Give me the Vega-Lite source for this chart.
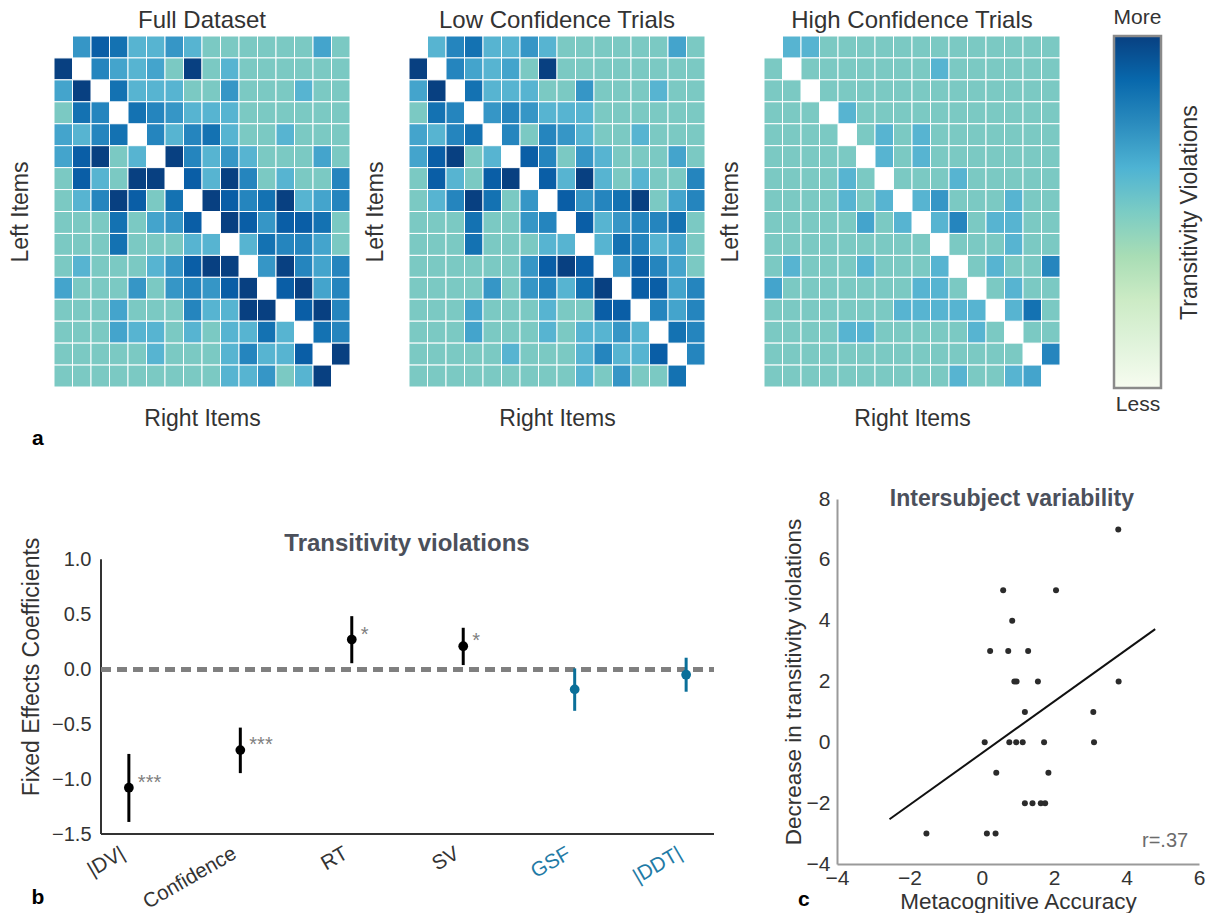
{
"$schema":"https://vega.github.io/schema/vega-lite/v6.json",
"background":"white",
"padding":{"left":9,"top":6,"right":4,"bottom":4},
"config":{"font":"Liberation Sans","view":{"stroke":null},
"axis":{"labelColor":"#333333","titleColor":"#333333","titleFontWeight":"normal","grid":false,"ticks":false,"labelFont":"Liberation Sans","titleFont":"Liberation Sans"},
"title":{"color":"#333333","fontWeight":"normal","font":"Liberation Sans"}},
"datasets":{
"cells":[
{"p":1,"r":0,"c":1,"v":3},{"p":1,"r":0,"c":2,"v":6},{"p":1,"r":0,"c":3,"v":5},{"p":1,"r":0,"c":4,"v":1},{"p":1,"r":0,"c":5,"v":1},{"p":1,"r":0,"c":6,"v":3},{"p":1,"r":0,"c":7,"v":1},{"p":1,"r":0,"c":8,"v":0},{"p":1,"r":0,"c":9,"v":0},{"p":1,"r":0,"c":10,"v":0},{"p":1,"r":0,"c":11,"v":0},{"p":1,"r":0,"c":12,"v":0},{"p":1,"r":0,"c":13,"v":0},{"p":1,"r":0,"c":14,"v":2},{"p":1,"r":0,"c":15,"v":0},
{"p":1,"r":1,"c":0,"v":7},{"p":1,"r":1,"c":2,"v":4},{"p":1,"r":1,"c":3,"v":2},{"p":1,"r":1,"c":4,"v":1},{"p":1,"r":1,"c":5,"v":2},{"p":1,"r":1,"c":6,"v":0},{"p":1,"r":1,"c":7,"v":7},{"p":1,"r":1,"c":8,"v":0},{"p":1,"r":1,"c":9,"v":1},{"p":1,"r":1,"c":10,"v":0},{"p":1,"r":1,"c":11,"v":0},{"p":1,"r":1,"c":12,"v":0},{"p":1,"r":1,"c":13,"v":0},{"p":1,"r":1,"c":14,"v":0},{"p":1,"r":1,"c":15,"v":0},
{"p":1,"r":2,"c":0,"v":2},{"p":1,"r":2,"c":1,"v":7},{"p":1,"r":2,"c":3,"v":5},{"p":1,"r":2,"c":4,"v":1},{"p":1,"r":2,"c":5,"v":1},{"p":1,"r":2,"c":6,"v":1},{"p":1,"r":2,"c":7,"v":0},{"p":1,"r":2,"c":8,"v":0},{"p":1,"r":2,"c":9,"v":3},{"p":1,"r":2,"c":10,"v":0},{"p":1,"r":2,"c":11,"v":0},{"p":1,"r":2,"c":12,"v":0},{"p":1,"r":2,"c":13,"v":1},{"p":1,"r":2,"c":14,"v":0},{"p":1,"r":2,"c":15,"v":0},
{"p":1,"r":3,"c":0,"v":0},{"p":1,"r":3,"c":1,"v":5},{"p":1,"r":3,"c":2,"v":4},{"p":1,"r":3,"c":4,"v":5},{"p":1,"r":3,"c":5,"v":4},{"p":1,"r":3,"c":6,"v":3},{"p":1,"r":3,"c":7,"v":1},{"p":1,"r":3,"c":8,"v":1},{"p":1,"r":3,"c":9,"v":1},{"p":1,"r":3,"c":10,"v":0},{"p":1,"r":3,"c":11,"v":0},{"p":1,"r":3,"c":12,"v":0},{"p":1,"r":3,"c":13,"v":0},{"p":1,"r":3,"c":14,"v":0},{"p":1,"r":3,"c":15,"v":0},
{"p":1,"r":4,"c":0,"v":2},{"p":1,"r":4,"c":1,"v":1},{"p":1,"r":4,"c":2,"v":4},{"p":1,"r":4,"c":3,"v":5},{"p":1,"r":4,"c":5,"v":4},{"p":1,"r":4,"c":6,"v":1},{"p":1,"r":4,"c":7,"v":4},{"p":1,"r":4,"c":8,"v":5},{"p":1,"r":4,"c":9,"v":1},{"p":1,"r":4,"c":10,"v":0},{"p":1,"r":4,"c":11,"v":0},{"p":1,"r":4,"c":12,"v":1},{"p":1,"r":4,"c":13,"v":0},{"p":1,"r":4,"c":14,"v":0},{"p":1,"r":4,"c":15,"v":0},
{"p":1,"r":5,"c":0,"v":2},{"p":1,"r":5,"c":1,"v":6},{"p":1,"r":5,"c":2,"v":7},{"p":1,"r":5,"c":3,"v":0},{"p":1,"r":5,"c":4,"v":1},{"p":1,"r":5,"c":6,"v":7},{"p":1,"r":5,"c":7,"v":4},{"p":1,"r":5,"c":8,"v":1},{"p":1,"r":5,"c":9,"v":3},{"p":1,"r":5,"c":10,"v":1},{"p":1,"r":5,"c":11,"v":0},{"p":1,"r":5,"c":12,"v":0},{"p":1,"r":5,"c":13,"v":0},{"p":1,"r":5,"c":14,"v":2},{"p":1,"r":5,"c":15,"v":0},
{"p":1,"r":6,"c":0,"v":0},{"p":1,"r":6,"c":1,"v":6},{"p":1,"r":6,"c":2,"v":1},{"p":1,"r":6,"c":3,"v":0},{"p":1,"r":6,"c":4,"v":7},{"p":1,"r":6,"c":5,"v":7},{"p":1,"r":6,"c":7,"v":6},{"p":1,"r":6,"c":8,"v":1},{"p":1,"r":6,"c":9,"v":7},{"p":1,"r":6,"c":10,"v":4},{"p":1,"r":6,"c":11,"v":0},{"p":1,"r":6,"c":12,"v":1},{"p":1,"r":6,"c":13,"v":0},{"p":1,"r":6,"c":14,"v":0},{"p":1,"r":6,"c":15,"v":4},
{"p":1,"r":7,"c":0,"v":0},{"p":1,"r":7,"c":1,"v":1},{"p":1,"r":7,"c":2,"v":4},{"p":1,"r":7,"c":3,"v":7},{"p":1,"r":7,"c":4,"v":6},{"p":1,"r":7,"c":5,"v":0},{"p":1,"r":7,"c":6,"v":5},{"p":1,"r":7,"c":8,"v":7},{"p":1,"r":7,"c":9,"v":6},{"p":1,"r":7,"c":10,"v":4},{"p":1,"r":7,"c":11,"v":5},{"p":1,"r":7,"c":12,"v":7},{"p":1,"r":7,"c":13,"v":1},{"p":1,"r":7,"c":14,"v":2},{"p":1,"r":7,"c":15,"v":4},
{"p":1,"r":8,"c":0,"v":0},{"p":1,"r":8,"c":1,"v":0},{"p":1,"r":8,"c":2,"v":0},{"p":1,"r":8,"c":3,"v":5},{"p":1,"r":8,"c":4,"v":0},{"p":1,"r":8,"c":5,"v":2},{"p":1,"r":8,"c":6,"v":3},{"p":1,"r":8,"c":7,"v":6},{"p":1,"r":8,"c":9,"v":7},{"p":1,"r":8,"c":10,"v":6},{"p":1,"r":8,"c":11,"v":3},{"p":1,"r":8,"c":12,"v":6},{"p":1,"r":8,"c":13,"v":6},{"p":1,"r":8,"c":14,"v":5},{"p":1,"r":8,"c":15,"v":0},
{"p":1,"r":9,"c":0,"v":0},{"p":1,"r":9,"c":1,"v":0},{"p":1,"r":9,"c":2,"v":0},{"p":1,"r":9,"c":3,"v":5},{"p":1,"r":9,"c":4,"v":0},{"p":1,"r":9,"c":5,"v":0},{"p":1,"r":9,"c":6,"v":0},{"p":1,"r":9,"c":7,"v":1},{"p":1,"r":9,"c":8,"v":1},{"p":1,"r":9,"c":10,"v":1},{"p":1,"r":9,"c":11,"v":5},{"p":1,"r":9,"c":12,"v":4},{"p":1,"r":9,"c":13,"v":4},{"p":1,"r":9,"c":14,"v":2},{"p":1,"r":9,"c":15,"v":0},
{"p":1,"r":10,"c":0,"v":0},{"p":1,"r":10,"c":1,"v":1},{"p":1,"r":10,"c":2,"v":0},{"p":1,"r":10,"c":3,"v":0},{"p":1,"r":10,"c":4,"v":0},{"p":1,"r":10,"c":5,"v":1},{"p":1,"r":10,"c":6,"v":3},{"p":1,"r":10,"c":7,"v":6},{"p":1,"r":10,"c":8,"v":7},{"p":1,"r":10,"c":9,"v":7},{"p":1,"r":10,"c":11,"v":3},{"p":1,"r":10,"c":12,"v":7},{"p":1,"r":10,"c":13,"v":4},{"p":1,"r":10,"c":14,"v":2},{"p":1,"r":10,"c":15,"v":4},
{"p":1,"r":11,"c":0,"v":2},{"p":1,"r":11,"c":1,"v":0},{"p":1,"r":11,"c":2,"v":0},{"p":1,"r":11,"c":3,"v":0},{"p":1,"r":11,"c":4,"v":3},{"p":1,"r":11,"c":5,"v":0},{"p":1,"r":11,"c":6,"v":3},{"p":1,"r":11,"c":7,"v":4},{"p":1,"r":11,"c":8,"v":3},{"p":1,"r":11,"c":9,"v":6},{"p":1,"r":11,"c":10,"v":7},{"p":1,"r":11,"c":12,"v":6},{"p":1,"r":11,"c":13,"v":7},{"p":1,"r":11,"c":14,"v":2},{"p":1,"r":11,"c":15,"v":4},
{"p":1,"r":12,"c":0,"v":0},{"p":1,"r":12,"c":1,"v":0},{"p":1,"r":12,"c":2,"v":0},{"p":1,"r":12,"c":3,"v":2},{"p":1,"r":12,"c":4,"v":0},{"p":1,"r":12,"c":5,"v":0},{"p":1,"r":12,"c":6,"v":0},{"p":1,"r":12,"c":7,"v":4},{"p":1,"r":12,"c":8,"v":1},{"p":1,"r":12,"c":9,"v":1},{"p":1,"r":12,"c":10,"v":7},{"p":1,"r":12,"c":11,"v":7},{"p":1,"r":12,"c":13,"v":6},{"p":1,"r":12,"c":14,"v":7},{"p":1,"r":12,"c":15,"v":4},
{"p":1,"r":13,"c":0,"v":0},{"p":1,"r":13,"c":1,"v":0},{"p":1,"r":13,"c":2,"v":0},{"p":1,"r":13,"c":3,"v":2},{"p":1,"r":13,"c":4,"v":1},{"p":1,"r":13,"c":5,"v":1},{"p":1,"r":13,"c":6,"v":0},{"p":1,"r":13,"c":7,"v":1},{"p":1,"r":13,"c":8,"v":0},{"p":1,"r":13,"c":9,"v":1},{"p":1,"r":13,"c":10,"v":1},{"p":1,"r":13,"c":11,"v":5},{"p":1,"r":13,"c":12,"v":1},{"p":1,"r":13,"c":14,"v":5},{"p":1,"r":13,"c":15,"v":4},
{"p":1,"r":14,"c":0,"v":0},{"p":1,"r":14,"c":1,"v":0},{"p":1,"r":14,"c":2,"v":0},{"p":1,"r":14,"c":3,"v":0},{"p":1,"r":14,"c":4,"v":0},{"p":1,"r":14,"c":5,"v":1},{"p":1,"r":14,"c":6,"v":0},{"p":1,"r":14,"c":7,"v":0},{"p":1,"r":14,"c":8,"v":0},{"p":1,"r":14,"c":9,"v":1},{"p":1,"r":14,"c":10,"v":4},{"p":1,"r":14,"c":11,"v":1},{"p":1,"r":14,"c":12,"v":1},{"p":1,"r":14,"c":13,"v":6},{"p":1,"r":14,"c":15,"v":7},
{"p":1,"r":15,"c":0,"v":0},{"p":1,"r":15,"c":1,"v":0},{"p":1,"r":15,"c":2,"v":0},{"p":1,"r":15,"c":3,"v":0},{"p":1,"r":15,"c":4,"v":0},{"p":1,"r":15,"c":5,"v":0},{"p":1,"r":15,"c":6,"v":0},{"p":1,"r":15,"c":7,"v":0},{"p":1,"r":15,"c":8,"v":0},{"p":1,"r":15,"c":9,"v":1},{"p":1,"r":15,"c":10,"v":1},{"p":1,"r":15,"c":11,"v":3},{"p":1,"r":15,"c":12,"v":0},{"p":1,"r":15,"c":13,"v":1},{"p":1,"r":15,"c":14,"v":7},
{"p":2,"r":0,"c":1,"v":1},{"p":2,"r":0,"c":2,"v":4},{"p":2,"r":0,"c":3,"v":5},{"p":2,"r":0,"c":4,"v":1},{"p":2,"r":0,"c":5,"v":1},{"p":2,"r":0,"c":6,"v":3},{"p":2,"r":0,"c":7,"v":1},{"p":2,"r":0,"c":8,"v":0},{"p":2,"r":0,"c":9,"v":0},{"p":2,"r":0,"c":10,"v":0},{"p":2,"r":0,"c":11,"v":0},{"p":2,"r":0,"c":12,"v":0},{"p":2,"r":0,"c":13,"v":0},{"p":2,"r":0,"c":14,"v":2},{"p":2,"r":0,"c":15,"v":0},
{"p":2,"r":1,"c":0,"v":7},{"p":2,"r":1,"c":2,"v":4},{"p":2,"r":1,"c":3,"v":2},{"p":2,"r":1,"c":4,"v":1},{"p":2,"r":1,"c":5,"v":2},{"p":2,"r":1,"c":6,"v":0},{"p":2,"r":1,"c":7,"v":7},{"p":2,"r":1,"c":8,"v":0},{"p":2,"r":1,"c":9,"v":0},{"p":2,"r":1,"c":10,"v":0},{"p":2,"r":1,"c":11,"v":0},{"p":2,"r":1,"c":12,"v":0},{"p":2,"r":1,"c":13,"v":0},{"p":2,"r":1,"c":14,"v":0},{"p":2,"r":1,"c":15,"v":0},
{"p":2,"r":2,"c":0,"v":2},{"p":2,"r":2,"c":1,"v":7},{"p":2,"r":2,"c":3,"v":5},{"p":2,"r":2,"c":4,"v":1},{"p":2,"r":2,"c":5,"v":1},{"p":2,"r":2,"c":6,"v":1},{"p":2,"r":2,"c":7,"v":0},{"p":2,"r":2,"c":8,"v":0},{"p":2,"r":2,"c":9,"v":3},{"p":2,"r":2,"c":10,"v":0},{"p":2,"r":2,"c":11,"v":0},{"p":2,"r":2,"c":12,"v":0},{"p":2,"r":2,"c":13,"v":1},{"p":2,"r":2,"c":14,"v":0},{"p":2,"r":2,"c":15,"v":0},
{"p":2,"r":3,"c":0,"v":0},{"p":2,"r":3,"c":1,"v":5},{"p":2,"r":3,"c":2,"v":4},{"p":2,"r":3,"c":4,"v":3},{"p":2,"r":3,"c":5,"v":4},{"p":2,"r":3,"c":6,"v":3},{"p":2,"r":3,"c":7,"v":1},{"p":2,"r":3,"c":8,"v":1},{"p":2,"r":3,"c":9,"v":1},{"p":2,"r":3,"c":10,"v":0},{"p":2,"r":3,"c":11,"v":0},{"p":2,"r":3,"c":12,"v":0},{"p":2,"r":3,"c":13,"v":0},{"p":2,"r":3,"c":14,"v":0},{"p":2,"r":3,"c":15,"v":0},
{"p":2,"r":4,"c":0,"v":2},{"p":2,"r":4,"c":1,"v":1},{"p":2,"r":4,"c":2,"v":4},{"p":2,"r":4,"c":3,"v":5},{"p":2,"r":4,"c":5,"v":4},{"p":2,"r":4,"c":6,"v":0},{"p":2,"r":4,"c":7,"v":4},{"p":2,"r":4,"c":8,"v":3},{"p":2,"r":4,"c":9,"v":1},{"p":2,"r":4,"c":10,"v":0},{"p":2,"r":4,"c":11,"v":0},{"p":2,"r":4,"c":12,"v":1},{"p":2,"r":4,"c":13,"v":0},{"p":2,"r":4,"c":14,"v":0},{"p":2,"r":4,"c":15,"v":0},
{"p":2,"r":5,"c":0,"v":2},{"p":2,"r":5,"c":1,"v":6},{"p":2,"r":5,"c":2,"v":7},{"p":2,"r":5,"c":3,"v":0},{"p":2,"r":5,"c":4,"v":1},{"p":2,"r":5,"c":6,"v":6},{"p":2,"r":5,"c":7,"v":4},{"p":2,"r":5,"c":8,"v":0},{"p":2,"r":5,"c":9,"v":3},{"p":2,"r":5,"c":10,"v":1},{"p":2,"r":5,"c":11,"v":0},{"p":2,"r":5,"c":12,"v":0},{"p":2,"r":5,"c":13,"v":0},{"p":2,"r":5,"c":14,"v":2},{"p":2,"r":5,"c":15,"v":0},
{"p":2,"r":6,"c":0,"v":0},{"p":2,"r":6,"c":1,"v":6},{"p":2,"r":6,"c":2,"v":1},{"p":2,"r":6,"c":3,"v":0},{"p":2,"r":6,"c":4,"v":6},{"p":2,"r":6,"c":5,"v":7},{"p":2,"r":6,"c":7,"v":6},{"p":2,"r":6,"c":8,"v":1},{"p":2,"r":6,"c":9,"v":7},{"p":2,"r":6,"c":10,"v":1},{"p":2,"r":6,"c":11,"v":0},{"p":2,"r":6,"c":12,"v":1},{"p":2,"r":6,"c":13,"v":0},{"p":2,"r":6,"c":14,"v":0},{"p":2,"r":6,"c":15,"v":4},
{"p":2,"r":7,"c":0,"v":0},{"p":2,"r":7,"c":1,"v":1},{"p":2,"r":7,"c":2,"v":4},{"p":2,"r":7,"c":3,"v":7},{"p":2,"r":7,"c":4,"v":5},{"p":2,"r":7,"c":5,"v":0},{"p":2,"r":7,"c":6,"v":3},{"p":2,"r":7,"c":8,"v":6},{"p":2,"r":7,"c":9,"v":3},{"p":2,"r":7,"c":10,"v":4},{"p":2,"r":7,"c":11,"v":5},{"p":2,"r":7,"c":12,"v":7},{"p":2,"r":7,"c":13,"v":0},{"p":2,"r":7,"c":14,"v":2},{"p":2,"r":7,"c":15,"v":4},
{"p":2,"r":8,"c":0,"v":0},{"p":2,"r":8,"c":1,"v":0},{"p":2,"r":8,"c":2,"v":0},{"p":2,"r":8,"c":3,"v":5},{"p":2,"r":8,"c":4,"v":0},{"p":2,"r":8,"c":5,"v":0},{"p":2,"r":8,"c":6,"v":3},{"p":2,"r":8,"c":7,"v":4},{"p":2,"r":8,"c":9,"v":6},{"p":2,"r":8,"c":10,"v":1},{"p":2,"r":8,"c":11,"v":3},{"p":2,"r":8,"c":12,"v":4},{"p":2,"r":8,"c":13,"v":4},{"p":2,"r":8,"c":14,"v":5},{"p":2,"r":8,"c":15,"v":0},
{"p":2,"r":9,"c":0,"v":0},{"p":2,"r":9,"c":1,"v":0},{"p":2,"r":9,"c":2,"v":0},{"p":2,"r":9,"c":3,"v":5},{"p":2,"r":9,"c":4,"v":0},{"p":2,"r":9,"c":5,"v":0},{"p":2,"r":9,"c":6,"v":0},{"p":2,"r":9,"c":7,"v":1},{"p":2,"r":9,"c":8,"v":1},{"p":2,"r":9,"c":10,"v":1},{"p":2,"r":9,"c":11,"v":5},{"p":2,"r":9,"c":12,"v":4},{"p":2,"r":9,"c":13,"v":1},{"p":2,"r":9,"c":14,"v":2},{"p":2,"r":9,"c":15,"v":0},
{"p":2,"r":10,"c":0,"v":0},{"p":2,"r":10,"c":1,"v":0},{"p":2,"r":10,"c":2,"v":0},{"p":2,"r":10,"c":3,"v":0},{"p":2,"r":10,"c":4,"v":0},{"p":2,"r":10,"c":5,"v":0},{"p":2,"r":10,"c":6,"v":3},{"p":2,"r":10,"c":7,"v":6},{"p":2,"r":10,"c":8,"v":7},{"p":2,"r":10,"c":9,"v":6},{"p":2,"r":10,"c":11,"v":3},{"p":2,"r":10,"c":12,"v":6},{"p":2,"r":10,"c":13,"v":4},{"p":2,"r":10,"c":14,"v":2},{"p":2,"r":10,"c":15,"v":0},
{"p":2,"r":11,"c":0,"v":0},{"p":2,"r":11,"c":1,"v":0},{"p":2,"r":11,"c":2,"v":0},{"p":2,"r":11,"c":3,"v":0},{"p":2,"r":11,"c":4,"v":3},{"p":2,"r":11,"c":5,"v":0},{"p":2,"r":11,"c":6,"v":3},{"p":2,"r":11,"c":7,"v":4},{"p":2,"r":11,"c":8,"v":1},{"p":2,"r":11,"c":9,"v":5},{"p":2,"r":11,"c":10,"v":7},{"p":2,"r":11,"c":12,"v":6},{"p":2,"r":11,"c":13,"v":6},{"p":2,"r":11,"c":14,"v":2},{"p":2,"r":11,"c":15,"v":4},
{"p":2,"r":12,"c":0,"v":0},{"p":2,"r":12,"c":1,"v":0},{"p":2,"r":12,"c":2,"v":0},{"p":2,"r":12,"c":3,"v":2},{"p":2,"r":12,"c":4,"v":0},{"p":2,"r":12,"c":5,"v":0},{"p":2,"r":12,"c":6,"v":0},{"p":2,"r":12,"c":7,"v":1},{"p":2,"r":12,"c":8,"v":0},{"p":2,"r":12,"c":9,"v":0},{"p":2,"r":12,"c":10,"v":6},{"p":2,"r":12,"c":11,"v":6},{"p":2,"r":12,"c":13,"v":4},{"p":2,"r":12,"c":14,"v":2},{"p":2,"r":12,"c":15,"v":4},
{"p":2,"r":13,"c":0,"v":0},{"p":2,"r":13,"c":1,"v":0},{"p":2,"r":13,"c":2,"v":0},{"p":2,"r":13,"c":3,"v":2},{"p":2,"r":13,"c":4,"v":0},{"p":2,"r":13,"c":5,"v":0},{"p":2,"r":13,"c":6,"v":0},{"p":2,"r":13,"c":7,"v":1},{"p":2,"r":13,"c":8,"v":0},{"p":2,"r":13,"c":9,"v":1},{"p":2,"r":13,"c":10,"v":1},{"p":2,"r":13,"c":11,"v":3},{"p":2,"r":13,"c":12,"v":1},{"p":2,"r":13,"c":14,"v":5},{"p":2,"r":13,"c":15,"v":4},
{"p":2,"r":14,"c":0,"v":0},{"p":2,"r":14,"c":1,"v":0},{"p":2,"r":14,"c":2,"v":0},{"p":2,"r":14,"c":3,"v":0},{"p":2,"r":14,"c":4,"v":0},{"p":2,"r":14,"c":5,"v":1},{"p":2,"r":14,"c":6,"v":0},{"p":2,"r":14,"c":7,"v":0},{"p":2,"r":14,"c":8,"v":0},{"p":2,"r":14,"c":9,"v":1},{"p":2,"r":14,"c":10,"v":4},{"p":2,"r":14,"c":11,"v":1},{"p":2,"r":14,"c":12,"v":1},{"p":2,"r":14,"c":13,"v":6},{"p":2,"r":14,"c":15,"v":4},
{"p":2,"r":15,"c":0,"v":0},{"p":2,"r":15,"c":1,"v":0},{"p":2,"r":15,"c":2,"v":0},{"p":2,"r":15,"c":3,"v":0},{"p":2,"r":15,"c":4,"v":0},{"p":2,"r":15,"c":5,"v":0},{"p":2,"r":15,"c":6,"v":0},{"p":2,"r":15,"c":7,"v":0},{"p":2,"r":15,"c":8,"v":0},{"p":2,"r":15,"c":9,"v":1},{"p":2,"r":15,"c":10,"v":0},{"p":2,"r":15,"c":11,"v":3},{"p":2,"r":15,"c":12,"v":0},{"p":2,"r":15,"c":13,"v":0},{"p":2,"r":15,"c":14,"v":5},
{"p":3,"r":0,"c":1,"v":1},{"p":3,"r":0,"c":2,"v":1},{"p":3,"r":0,"c":3,"v":0},{"p":3,"r":0,"c":4,"v":0},{"p":3,"r":0,"c":5,"v":0},{"p":3,"r":0,"c":6,"v":0},{"p":3,"r":0,"c":7,"v":0},{"p":3,"r":0,"c":8,"v":0},{"p":3,"r":0,"c":9,"v":0},{"p":3,"r":0,"c":10,"v":0},{"p":3,"r":0,"c":11,"v":0},{"p":3,"r":0,"c":12,"v":0},{"p":3,"r":0,"c":13,"v":0},{"p":3,"r":0,"c":14,"v":0},{"p":3,"r":0,"c":15,"v":0},
{"p":3,"r":1,"c":0,"v":0},{"p":3,"r":1,"c":2,"v":0},{"p":3,"r":1,"c":3,"v":0},{"p":3,"r":1,"c":4,"v":0},{"p":3,"r":1,"c":5,"v":0},{"p":3,"r":1,"c":6,"v":0},{"p":3,"r":1,"c":7,"v":0},{"p":3,"r":1,"c":8,"v":0},{"p":3,"r":1,"c":9,"v":1},{"p":3,"r":1,"c":10,"v":0},{"p":3,"r":1,"c":11,"v":0},{"p":3,"r":1,"c":12,"v":0},{"p":3,"r":1,"c":13,"v":0},{"p":3,"r":1,"c":14,"v":0},{"p":3,"r":1,"c":15,"v":0},
{"p":3,"r":2,"c":0,"v":0},{"p":3,"r":2,"c":1,"v":0},{"p":3,"r":2,"c":3,"v":0},{"p":3,"r":2,"c":4,"v":0},{"p":3,"r":2,"c":5,"v":0},{"p":3,"r":2,"c":6,"v":0},{"p":3,"r":2,"c":7,"v":0},{"p":3,"r":2,"c":8,"v":0},{"p":3,"r":2,"c":9,"v":0},{"p":3,"r":2,"c":10,"v":0},{"p":3,"r":2,"c":11,"v":0},{"p":3,"r":2,"c":12,"v":0},{"p":3,"r":2,"c":13,"v":0},{"p":3,"r":2,"c":14,"v":0},{"p":3,"r":2,"c":15,"v":0},
{"p":3,"r":3,"c":0,"v":0},{"p":3,"r":3,"c":1,"v":0},{"p":3,"r":3,"c":2,"v":0},{"p":3,"r":3,"c":4,"v":1},{"p":3,"r":3,"c":5,"v":0},{"p":3,"r":3,"c":6,"v":0},{"p":3,"r":3,"c":7,"v":0},{"p":3,"r":3,"c":8,"v":0},{"p":3,"r":3,"c":9,"v":0},{"p":3,"r":3,"c":10,"v":0},{"p":3,"r":3,"c":11,"v":0},{"p":3,"r":3,"c":12,"v":0},{"p":3,"r":3,"c":13,"v":0},{"p":3,"r":3,"c":14,"v":0},{"p":3,"r":3,"c":15,"v":0},
{"p":3,"r":4,"c":0,"v":0},{"p":3,"r":4,"c":1,"v":0},{"p":3,"r":4,"c":2,"v":0},{"p":3,"r":4,"c":3,"v":0},{"p":3,"r":4,"c":5,"v":0},{"p":3,"r":4,"c":6,"v":1},{"p":3,"r":4,"c":7,"v":0},{"p":3,"r":4,"c":8,"v":1},{"p":3,"r":4,"c":9,"v":0},{"p":3,"r":4,"c":10,"v":0},{"p":3,"r":4,"c":11,"v":0},{"p":3,"r":4,"c":12,"v":0},{"p":3,"r":4,"c":13,"v":0},{"p":3,"r":4,"c":14,"v":0},{"p":3,"r":4,"c":15,"v":0},
{"p":3,"r":5,"c":0,"v":0},{"p":3,"r":5,"c":1,"v":0},{"p":3,"r":5,"c":2,"v":0},{"p":3,"r":5,"c":3,"v":0},{"p":3,"r":5,"c":4,"v":0},{"p":3,"r":5,"c":6,"v":1},{"p":3,"r":5,"c":7,"v":0},{"p":3,"r":5,"c":8,"v":1},{"p":3,"r":5,"c":9,"v":0},{"p":3,"r":5,"c":10,"v":0},{"p":3,"r":5,"c":11,"v":0},{"p":3,"r":5,"c":12,"v":0},{"p":3,"r":5,"c":13,"v":0},{"p":3,"r":5,"c":14,"v":0},{"p":3,"r":5,"c":15,"v":0},
{"p":3,"r":6,"c":0,"v":0},{"p":3,"r":6,"c":1,"v":0},{"p":3,"r":6,"c":2,"v":0},{"p":3,"r":6,"c":3,"v":0},{"p":3,"r":6,"c":4,"v":1},{"p":3,"r":6,"c":5,"v":0},{"p":3,"r":6,"c":7,"v":0},{"p":3,"r":6,"c":8,"v":0},{"p":3,"r":6,"c":9,"v":0},{"p":3,"r":6,"c":10,"v":1},{"p":3,"r":6,"c":11,"v":0},{"p":3,"r":6,"c":12,"v":0},{"p":3,"r":6,"c":13,"v":0},{"p":3,"r":6,"c":14,"v":0},{"p":3,"r":6,"c":15,"v":0},
{"p":3,"r":7,"c":0,"v":0},{"p":3,"r":7,"c":1,"v":0},{"p":3,"r":7,"c":2,"v":0},{"p":3,"r":7,"c":3,"v":0},{"p":3,"r":7,"c":4,"v":1},{"p":3,"r":7,"c":5,"v":0},{"p":3,"r":7,"c":6,"v":1},{"p":3,"r":7,"c":8,"v":1},{"p":3,"r":7,"c":9,"v":3},{"p":3,"r":7,"c":10,"v":0},{"p":3,"r":7,"c":11,"v":0},{"p":3,"r":7,"c":12,"v":0},{"p":3,"r":7,"c":13,"v":1},{"p":3,"r":7,"c":14,"v":0},{"p":3,"r":7,"c":15,"v":0},
{"p":3,"r":8,"c":0,"v":0},{"p":3,"r":8,"c":1,"v":0},{"p":3,"r":8,"c":2,"v":0},{"p":3,"r":8,"c":3,"v":0},{"p":3,"r":8,"c":4,"v":0},{"p":3,"r":8,"c":5,"v":2},{"p":3,"r":8,"c":6,"v":0},{"p":3,"r":8,"c":7,"v":1},{"p":3,"r":8,"c":9,"v":1},{"p":3,"r":8,"c":10,"v":4},{"p":3,"r":8,"c":11,"v":0},{"p":3,"r":8,"c":12,"v":1},{"p":3,"r":8,"c":13,"v":1},{"p":3,"r":8,"c":14,"v":0},{"p":3,"r":8,"c":15,"v":0},
{"p":3,"r":9,"c":0,"v":0},{"p":3,"r":9,"c":1,"v":0},{"p":3,"r":9,"c":2,"v":0},{"p":3,"r":9,"c":3,"v":0},{"p":3,"r":9,"c":4,"v":0},{"p":3,"r":9,"c":5,"v":0},{"p":3,"r":9,"c":6,"v":0},{"p":3,"r":9,"c":7,"v":0},{"p":3,"r":9,"c":8,"v":0},{"p":3,"r":9,"c":10,"v":0},{"p":3,"r":9,"c":11,"v":0},{"p":3,"r":9,"c":12,"v":0},{"p":3,"r":9,"c":13,"v":1},{"p":3,"r":9,"c":14,"v":0},{"p":3,"r":9,"c":15,"v":0},
{"p":3,"r":10,"c":0,"v":0},{"p":3,"r":10,"c":1,"v":1},{"p":3,"r":10,"c":2,"v":0},{"p":3,"r":10,"c":3,"v":0},{"p":3,"r":10,"c":4,"v":0},{"p":3,"r":10,"c":5,"v":1},{"p":3,"r":10,"c":6,"v":0},{"p":3,"r":10,"c":7,"v":0},{"p":3,"r":10,"c":8,"v":0},{"p":3,"r":10,"c":9,"v":1},{"p":3,"r":10,"c":11,"v":0},{"p":3,"r":10,"c":12,"v":1},{"p":3,"r":10,"c":13,"v":0},{"p":3,"r":10,"c":14,"v":0},{"p":3,"r":10,"c":15,"v":4},
{"p":3,"r":11,"c":0,"v":2},{"p":3,"r":11,"c":1,"v":0},{"p":3,"r":11,"c":2,"v":0},{"p":3,"r":11,"c":3,"v":0},{"p":3,"r":11,"c":4,"v":0},{"p":3,"r":11,"c":5,"v":0},{"p":3,"r":11,"c":6,"v":0},{"p":3,"r":11,"c":7,"v":0},{"p":3,"r":11,"c":8,"v":1},{"p":3,"r":11,"c":9,"v":1},{"p":3,"r":11,"c":10,"v":0},{"p":3,"r":11,"c":12,"v":0},{"p":3,"r":11,"c":13,"v":1},{"p":3,"r":11,"c":14,"v":0},{"p":3,"r":11,"c":15,"v":0},
{"p":3,"r":12,"c":0,"v":0},{"p":3,"r":12,"c":1,"v":0},{"p":3,"r":12,"c":2,"v":0},{"p":3,"r":12,"c":3,"v":0},{"p":3,"r":12,"c":4,"v":0},{"p":3,"r":12,"c":5,"v":0},{"p":3,"r":12,"c":6,"v":0},{"p":3,"r":12,"c":7,"v":1},{"p":3,"r":12,"c":8,"v":1},{"p":3,"r":12,"c":9,"v":1},{"p":3,"r":12,"c":10,"v":1},{"p":3,"r":12,"c":11,"v":1},{"p":3,"r":12,"c":13,"v":1},{"p":3,"r":12,"c":14,"v":5},{"p":3,"r":12,"c":15,"v":0},
{"p":3,"r":13,"c":0,"v":0},{"p":3,"r":13,"c":1,"v":0},{"p":3,"r":13,"c":2,"v":0},{"p":3,"r":13,"c":3,"v":0},{"p":3,"r":13,"c":4,"v":1},{"p":3,"r":13,"c":5,"v":1},{"p":3,"r":13,"c":6,"v":0},{"p":3,"r":13,"c":7,"v":0},{"p":3,"r":13,"c":8,"v":0},{"p":3,"r":13,"c":9,"v":0},{"p":3,"r":13,"c":10,"v":0},{"p":3,"r":13,"c":11,"v":1},{"p":3,"r":13,"c":12,"v":0},{"p":3,"r":13,"c":14,"v":0},{"p":3,"r":13,"c":15,"v":0},
{"p":3,"r":14,"c":0,"v":0},{"p":3,"r":14,"c":1,"v":0},{"p":3,"r":14,"c":2,"v":0},{"p":3,"r":14,"c":3,"v":0},{"p":3,"r":14,"c":4,"v":0},{"p":3,"r":14,"c":5,"v":0},{"p":3,"r":14,"c":6,"v":0},{"p":3,"r":14,"c":7,"v":0},{"p":3,"r":14,"c":8,"v":0},{"p":3,"r":14,"c":9,"v":0},{"p":3,"r":14,"c":10,"v":0},{"p":3,"r":14,"c":11,"v":0},{"p":3,"r":14,"c":12,"v":0},{"p":3,"r":14,"c":13,"v":0},{"p":3,"r":14,"c":15,"v":4},
{"p":3,"r":15,"c":0,"v":0},{"p":3,"r":15,"c":1,"v":0},{"p":3,"r":15,"c":2,"v":0},{"p":3,"r":15,"c":3,"v":0},{"p":3,"r":15,"c":4,"v":0},{"p":3,"r":15,"c":5,"v":0},{"p":3,"r":15,"c":6,"v":0},{"p":3,"r":15,"c":7,"v":0},{"p":3,"r":15,"c":8,"v":0},{"p":3,"r":15,"c":9,"v":0},{"p":3,"r":15,"c":10,"v":1},{"p":3,"r":15,"c":11,"v":0},{"p":3,"r":15,"c":12,"v":0},{"p":3,"r":15,"c":13,"v":1},{"p":3,"r":15,"c":14,"v":2}
],
"bar":[{"lo":0,"hi":1}],
"coef":[
{"i":0,"name":"|DV|","est":-1.078,"lo":-1.39,"hi":-0.77,"sig":"***","grp":"behav"},
{"i":1,"name":"Confidence","est":-0.735,"lo":-0.945,"hi":-0.53,"sig":"***","grp":"behav"},
{"i":2,"name":"RT","est":0.273,"lo":0.057,"hi":0.486,"sig":"*","grp":"behav"},
{"i":3,"name":"SV","est":0.212,"lo":0.04,"hi":0.38,"sig":"*","grp":"behav"},
{"i":4,"name":"GSF","est":-0.182,"lo":-0.377,"hi":0.01,"sig":"","grp":"model"},
{"i":5,"name":"|DDT|","est":-0.048,"lo":-0.203,"hi":0.107,"sig":"","grp":"model"}
],
"subj":[
{"x":3.77,"y":7},{"x":0.59,"y":5},{"x":2.05,"y":5},{"x":0.84,"y":4},{"x":0.23,"y":3},{"x":0.73,"y":3},{"x":1.28,"y":3},{"x":0.9,"y":2},{"x":0.96,"y":2},{"x":1.55,"y":2},{"x":3.78,"y":2},{"x":1.19,"y":1},{"x":3.08,"y":1},{"x":0.08,"y":0},{"x":0.76,"y":0},{"x":0.95,"y":0},{"x":1.13,"y":0},{"x":1.72,"y":0},{"x":3.1,"y":0},{"x":0.4,"y":-1},{"x":1.84,"y":-1},{"x":1.19,"y":-2},{"x":1.4,"y":-2},{"x":1.63,"y":-2},{"x":1.75,"y":-2},{"x":-1.53,"y":-3},{"x":0.14,"y":-3},{"x":0.38,"y":-3}
],
"fit":[{"x":-2.55,"y":-2.53},{"x":4.79,"y":3.72}],
"notes":[{"x":5.7,"y":-3.23,"t":"r=.37"}],
"heads":[{"x":0.83,"y":8,"t":"Intersubject variability"}]
},
"concat":[
{"hconcat":[
 {"hconcat":[
  {"width":296,"height":351,"data":{"name":"cells"},"transform":[{"filter":"datum.p == 1"}],
   "title":{"text":"Full Dataset","fontSize":24,"offset":-16,"baseline":"alphabetic"},
   "mark":{"type":"rect","stroke":"white","strokeWidth":1},
   "encoding":{
    "x":{"field":"c","type":"ordinal","scale":{"domain":[0,1,2,3,4,5,6,7,8,9,10,11,12,13,14,15],"paddingInner":0,"paddingOuter":0},"axis":{"labels":false,"ticks":false,"domain":false,"title":"Right Items","titleFontSize":23,"titlePadding":20}},
    "y":{"field":"r","type":"ordinal","scale":{"domain":[0,1,2,3,4,5,6,7,8,9,10,11,12,13,14,15],"paddingInner":0,"paddingOuter":0},"axis":{"labels":false,"ticks":false,"domain":false,"title":"Left Items","titleFontSize":23,"titlePadding":22}},
    "color":{"field":"v","type":"quantitative","scale":{"domain":[0,1,2,3,4,5,6,7],"range":["#7bc9c3","#57b4d1","#44a4cc","#3696c6","#2585be","#1472b2","#0a5ea6","#084081"]},"legend":null}}},
  {"width":296,"height":351,"data":{"name":"cells"},"transform":[{"filter":"datum.p == 2"}],
   "title":{"text":"Low Confidence Trials","fontSize":24,"offset":-16,"baseline":"alphabetic"},
   "mark":{"type":"rect","stroke":"white","strokeWidth":1},
   "encoding":{
    "x":{"field":"c","type":"ordinal","scale":{"domain":[0,1,2,3,4,5,6,7,8,9,10,11,12,13,14,15],"paddingInner":0,"paddingOuter":0},"axis":{"labels":false,"ticks":false,"domain":false,"title":"Right Items","titleFontSize":23,"titlePadding":20}},
    "y":{"field":"r","type":"ordinal","scale":{"domain":[0,1,2,3,4,5,6,7,8,9,10,11,12,13,14,15],"paddingInner":0,"paddingOuter":0},"axis":{"labels":false,"ticks":false,"domain":false,"title":"Left Items","titleFontSize":23,"titlePadding":22}},
    "color":{"field":"v","type":"quantitative","scale":{"domain":[0,1,2,3,4,5,6,7],"range":["#7bc9c3","#57b4d1","#44a4cc","#3696c6","#2585be","#1472b2","#0a5ea6","#084081"]},"legend":null}}},
  {"width":296,"height":351,"data":{"name":"cells"},"transform":[{"filter":"datum.p == 3"}],
   "title":{"text":"High Confidence Trials","fontSize":24,"offset":-16,"baseline":"alphabetic"},
   "mark":{"type":"rect","stroke":"white","strokeWidth":1},
   "encoding":{
    "x":{"field":"c","type":"ordinal","scale":{"domain":[0,1,2,3,4,5,6,7,8,9,10,11,12,13,14,15],"paddingInner":0,"paddingOuter":0},"axis":{"labels":false,"ticks":false,"domain":false,"title":"Right Items","titleFontSize":23,"titlePadding":20}},
    "y":{"field":"r","type":"ordinal","scale":{"domain":[0,1,2,3,4,5,6,7,8,9,10,11,12,13,14,15],"paddingInner":0,"paddingOuter":0},"axis":{"labels":false,"ticks":false,"domain":false,"title":"Left Items","titleFontSize":23,"titlePadding":22}},
    "color":{"field":"v","type":"quantitative","scale":{"domain":[0,1,2,3,4,5,6,7],"range":["#7bc9c3","#57b4d1","#44a4cc","#3696c6","#2585be","#1472b2","#0a5ea6","#084081"]},"legend":null}}}
 ],"spacing":13},
 {"vconcat":[
  {"width":47,"height":352,"data":{"name":"bar"},
   "title":{"text":"More","fontSize":21,"offset":-10,"baseline":"alphabetic"},
   "mark":{"type":"rect","stroke":"#8a8a8a","strokeWidth":2.5,
     "fill":{"gradient":"linear","x1":0,"y1":1,"x2":0,"y2":0,"stops":[{"offset":0,"color":"#f7fcf0"},{"offset":0.125,"color":"#e0f3db"},{"offset":0.25,"color":"#ccebc5"},{"offset":0.375,"color":"#a8ddb5"},{"offset":0.5,"color":"#7bccc4"},{"offset":0.625,"color":"#4eb3d3"},{"offset":0.75,"color":"#2b8cbe"},{"offset":0.875,"color":"#0868ac"},{"offset":1,"color":"#084081"}]}},
   "encoding":{
    "x":{"datum":0,"type":"quantitative","scale":{"domain":[0,1],"nice":false,"zero":false},"axis":{"labels":false,"ticks":false,"domain":false,"grid":false,"title":"Less","titleFontSize":21,"titlePadding":5}},
    "x2":{"datum":1},
    "y":{"field":"lo","type":"quantitative","scale":{"domain":[0,1],"nice":false,"zero":false},"axis":{"orient":"right","labels":false,"ticks":false,"domain":false,"grid":false,"title":"Transitivity Violations","titleFontSize":23,"titleAngle":270,"titleBaseline":"top","titlePadding":17}},
    "y2":{"field":"hi"}}}
 ]}
],"spacing":51,
"title":{"text":"a","orient":"bottom","anchor":"start","fontSize":21,"fontWeight":"bold","color":"#000000","dx":23,"offset":-2}},
{"hconcat":[
 {"width":660,"height":335,"data":{"name":"coef"},
  "title":{"text":"Transitivity violations","fontSize":24,"fontWeight":"bold","color":"#4b505b","baseline":"alphabetic","offset":-76,"frame":"group","anchor":"middle","dx":23},
  "layer":[
   {"mark":{"type":"rule","color":"#333333","strokeWidth":1.5},
    "encoding":{
     "x":{"datum":-0.25,"type":"quantitative","scale":{"domain":[-0.6717,5.25],"nice":false,"zero":false},"axis":{"values":[0,1,2,3,4,5],"labelExpr":"['|DV|','Confidence','RT','SV','GSF','|DDT|'][datum.value]","labelAngle":-30,"labelFontSize":20.5,"labelPadding":9,"labelOffset":-11,"labelOverlap":false,"labelFlush":false,"labelColor":{"condition":{"test":"datum.value >= 4","value":"#1f7ba6"},"value":"#333333"},"ticks":false,"grid":false,"domain":false,"title":null}},
     "y":{"datum":-1.5,"type":"quantitative","scale":{"domain":[-1.5,1.554],"nice":false,"zero":false},"axis":{"values":[-1.5,-1,-0.5,0,0.5,1],"format":".1f","labelFontSize":20,"labelPadding":10,"labelFlush":false,"ticks":false,"domain":false,"grid":false,"offset":-47,"title":"Fixed Effects Coefficients","titleFontSize":23,"titlePadding":8}},
     "y2":{"datum":1.0}}},
   {"mark":{"type":"rule","color":"#333333","strokeWidth":1.5},
    "encoding":{
     "x":{"datum":-0.25,"type":"quantitative"},
     "x2":{"datum":5.25},
     "y":{"datum":-1.5,"type":"quantitative"}}},
   {"mark":{"type":"rule","color":"#7f7f7f","strokeWidth":4,"strokeDash":[10,6]},
    "encoding":{
     "x":{"datum":-0.25,"type":"quantitative"},
     "x2":{"datum":5.25},
     "y":{"datum":0,"type":"quantitative"}}},
   {"mark":{"type":"rule","strokeWidth":3},
    "encoding":{
     "x":{"field":"i","type":"quantitative"},
     "y":{"field":"lo","type":"quantitative"},
     "y2":{"field":"hi"},
     "color":{"field":"grp","type":"nominal","scale":{"domain":["behav","model"],"range":["#000000","#0a6f99"]},"legend":null}}},
   {"mark":{"type":"circle","size":95,"opacity":1},
    "encoding":{
     "x":{"field":"i","type":"quantitative"},
     "y":{"field":"est","type":"quantitative"},
     "color":{"field":"grp","type":"nominal","scale":{"domain":["behav","model"],"range":["#000000","#0a6f99"]},"legend":null}}},
   {"mark":{"type":"text","align":"left","baseline":"middle","dx":9,"dy":-5,"fontSize":20,"color":"#808080"},
    "encoding":{
     "x":{"field":"i","type":"quantitative"},
     "y":{"field":"est","type":"quantitative"},
     "text":{"field":"sig"}}}
  ]},
 {"width":362,"height":365,
  "title":{"text":"c","orient":"bottom","anchor":"start","fontSize":21,"fontWeight":"bold","color":"#000000","dx":16,"offset":-24},
  "layer":[
   {"data":{"name":"subj"},"mark":{"type":"circle","size":36,"color":"#2b2b2b","opacity":1},
    "encoding":{
     "x":{"field":"x","type":"quantitative","scale":{"domain":[-4,6],"nice":false,"zero":false},"axis":{"values":[-4,-2,0,2,4,6],"labelFontSize":21,"labelPadding":3,"labelFlush":false,"ticks":false,"grid":false,"domainColor":"#9a9a9a","domainWidth":2,"title":"Metacognitive Accuracy","titleFontSize":22.5,"titlePadding":2}},
     "y":{"field":"y","type":"quantitative","scale":{"domain":[-4,8],"nice":false,"zero":false},"axis":{"values":[-4,-2,0,2,4,6,8],"labelFontSize":21,"labelPadding":7,"labelFlush":false,"ticks":false,"grid":false,"domainColor":"#9a9a9a","domainWidth":2,"title":"Decrease in transitivity violations","titleFontSize":22.5,"titlePadding":1}}}},
   {"data":{"name":"fit"},"mark":{"type":"line","color":"#111111","strokeWidth":2},
    "encoding":{"x":{"field":"x","type":"quantitative"},"y":{"field":"y","type":"quantitative"}}},
   {"data":{"name":"notes"},"mark":{"type":"text","align":"right","baseline":"middle","fontSize":20,"color":"#6b6b6b"},
    "encoding":{"x":{"field":"x","type":"quantitative"},"y":{"field":"y","type":"quantitative"},"text":{"field":"t"}}},
   {"data":{"name":"heads"},"mark":{"type":"text","align":"center","baseline":"middle","fontSize":23,"fontWeight":"bold","color":"#4b505b"},
    "encoding":{"x":{"field":"x","type":"quantitative"},"y":{"field":"y","type":"quantitative"},"text":{"field":"t"}}}
  ]}
],"spacing":66,
"title":{"text":"b","orient":"bottom","anchor":"start","fontSize":21,"fontWeight":"bold","color":"#000000","dx":11,"offset":-26}}
],
"columns":1,
"align":"none",
"spacing":39
}
